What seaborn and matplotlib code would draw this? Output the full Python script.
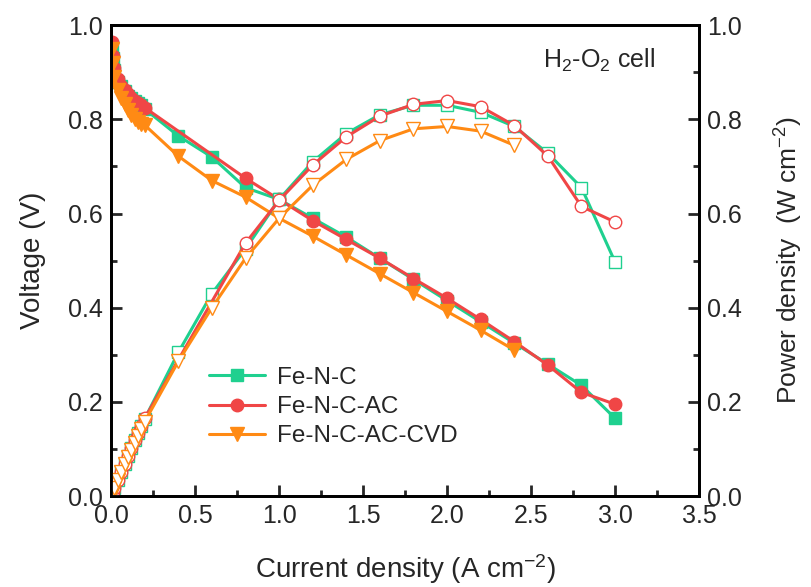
import numpy as np
import pandas as pd
import matplotlib
matplotlib.use("Agg")
import matplotlib.pyplot as plt
import seaborn as sns
from matplotlib.ticker import MultipleLocator

# ---- data ----
x_low = [0.005, 0.01, 0.02, 0.04, 0.06, 0.08, 0.10, 0.12, 0.14, 0.16, 0.18, 0.20]
x_high_full = [0.4, 0.6, 0.8, 1.0, 1.2, 1.4, 1.6, 1.8, 2.0, 2.2, 2.4, 2.6, 2.8, 3.0]
x_high_ac = [0.8, 1.0, 1.2, 1.4, 1.6, 1.8, 2.0, 2.2, 2.4, 2.6, 2.8, 3.0]
x_high_cvd = [0.4, 0.6, 0.8, 1.0, 1.2, 1.4, 1.6, 1.8, 2.0, 2.2, 2.4]

fenc_v = [0.955, 0.93, 0.905, 0.88, 0.87, 0.86, 0.85, 0.845, 0.84, 0.835, 0.83, 0.822,
          0.765, 0.72, 0.655, 0.63, 0.59, 0.55, 0.505, 0.46, 0.415, 0.37, 0.325, 0.28, 0.235, 0.165]
fenc_p = [0.005, 0.009, 0.018, 0.035, 0.052, 0.069, 0.085, 0.101, 0.118, 0.134, 0.149, 0.164,
          0.305, 0.43, 0.525, 0.63, 0.71, 0.77, 0.81, 0.83, 0.83, 0.815, 0.785, 0.728, 0.655, 0.497]

ac_v = [0.965, 0.935, 0.91, 0.885, 0.872, 0.862, 0.853, 0.846, 0.84, 0.835, 0.83, 0.825,
        0.675, 0.63, 0.585, 0.545, 0.505, 0.462, 0.42, 0.375, 0.328, 0.278, 0.22, 0.195]
ac_p = [0.005, 0.009, 0.018, 0.035, 0.052, 0.069, 0.085, 0.101, 0.118, 0.134, 0.149, 0.165,
        0.537, 0.628, 0.703, 0.763, 0.807, 0.832, 0.84, 0.827, 0.787, 0.722, 0.615, 0.582]

cvd_v = [0.95, 0.92, 0.89, 0.862, 0.845, 0.832, 0.82, 0.81, 0.80, 0.795, 0.79, 0.788,
         0.722, 0.67, 0.635, 0.59, 0.552, 0.512, 0.472, 0.432, 0.392, 0.352, 0.31]
cvd_p = [0.005, 0.009, 0.018, 0.034, 0.051, 0.067, 0.082, 0.097, 0.112, 0.127, 0.142, 0.158,
         0.286, 0.40, 0.505, 0.59, 0.66, 0.715, 0.755, 0.78, 0.785, 0.775, 0.745]

labels = ["Fe-N-C", "Fe-N-C-AC", "Fe-N-C-AC-CVD"]
colors = ["#1FD08F", "#F04646", "#FF8A14"]
markers_v = ["s", "o", "v"]

sns.set_style("ticks")
plt.rcParams['font.family'] = ['Liberation Sans', 'DejaVu Sans']
plt.rcParams['mathtext.fontset'] = 'custom'
plt.rcParams['mathtext.rm'] = 'Liberation Sans'
plt.rcParams['mathtext.it'] = 'Liberation Sans:italic'

fig = plt.figure(figsize=(8.11, 5.87), dpi=100)
ax = fig.add_axes([0.137, 0.155, 0.725, 0.802])
ax2 = ax.twinx()

series = [
    (x_low + x_high_full, fenc_v, fenc_p),
    (x_low + x_high_ac, ac_v, ac_p),
    (x_low + x_high_cvd, cvd_v, cvd_p),
]

for (xs, v, p), lab, c, m in zip(series, labels, colors, markers_v):
    df = pd.DataFrame({"j": xs, "V": v, "P": p})
    ms = 9 if m == "o" else (8 if m == "s" else 10)
    sns.lineplot(data=df, x="j", y="V", ax=ax, sort=False, estimator=None,
                 color=c, marker=m, markersize=ms, markeredgecolor=c,
                 markeredgewidth=1.0, linewidth=2.2, label=lab)
    sns.lineplot(data=df, x="j", y="P", ax=ax2, sort=False, estimator=None,
                 color=c, marker=m, markersize=ms,
                 markerfacecolor="white", markeredgecolor=c,
                 markeredgewidth=1.0, linewidth=2.2, legend=False)

# axes formatting
for a in (ax, ax2):
    a.set_xlim(0, 3.5)
    a.set_ylim(0, 1.0)
    a.yaxis.set_major_locator(MultipleLocator(0.2))
    a.yaxis.set_minor_locator(MultipleLocator(0.1))
    for s in a.spines.values():
        s.set_linewidth(2.0)
        s.set_color("black")
        s.set_visible(True)

ax.xaxis.set_major_locator(MultipleLocator(0.5))
ax.xaxis.set_minor_locator(MultipleLocator(0.25))
ax.tick_params(axis="both", which="major", direction="in", length=8, width=2,
               labelsize=18, top=False, pad=6)
ax.tick_params(axis="both", which="minor", direction="in", length=4, width=2, top=False)
ax2.tick_params(axis="y", which="major", direction="in", length=8, width=2, labelsize=18, pad=6)
ax2.tick_params(axis="y", which="minor", direction="in", length=4, width=2)

ax.set_xticklabels([f"{t:.1f}" for t in ax.get_xticks()])
ax.set_yticks(np.arange(0, 1.01, 0.2))
ax.set_yticklabels([f"{t:.1f}" for t in np.arange(0, 1.01, 0.2)])
ax2.set_yticks(np.arange(0, 1.01, 0.2))
ax2.set_yticklabels([f"{t:.1f}" for t in np.arange(0, 1.01, 0.2)])

ax.set_xlabel(r"Current density (A cm$^{-2}$)", fontsize=20, labelpad=17)
ax.set_ylabel("Voltage (V)", fontsize=20, labelpad=16)
ax2.set_ylabel(r"Power density  (W cm$^{-2}$)", fontsize=19, labelpad=22)

ax.text(2.57, 0.926, r"H$_2$-O$_2$ cell", fontsize=18, ha="left", va="center")

leg = ax.legend(loc="upper left", bbox_to_anchor=(0.15, 0.295), frameon=False,
                fontsize=17.5, handlelength=2.3, handletextpad=0.5, labelspacing=0.3,
                borderaxespad=0)

fig.savefig("out.png", dpi=100)
